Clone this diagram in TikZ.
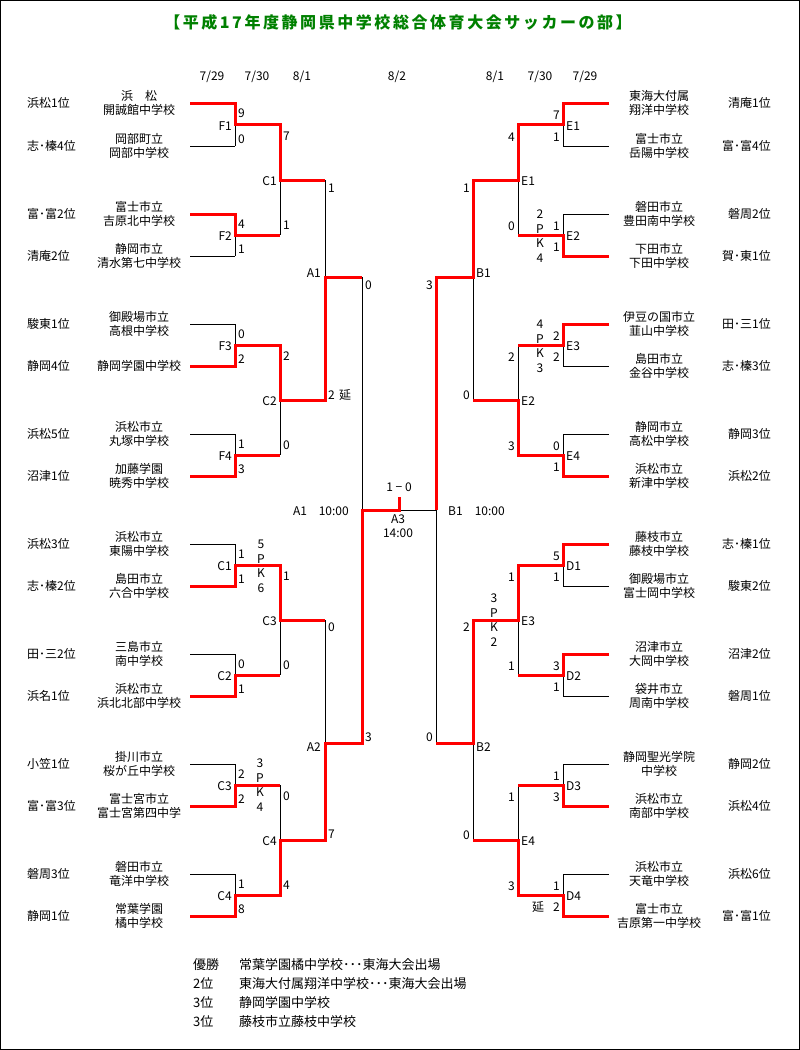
\documentclass[tikz,border=0pt]{standalone}
\usepackage{fontspec}
\setmainfont{Noto Sans CJK JP}
\newfontfamily\titlefont[LetterSpace=16]{Noto Sans CJK JP}
\definecolor{ttlgreen}{HTML}{008000}
\definecolor{wred}{HTML}{FF0000}
\tikzset{
  bl/.style={line width=1pt, draw=black},
  rd/.style={line width=3pt, draw=wred, line join=miter, line cap=butt},
  tx/.style={inner sep=0pt, font=\fontsize{12pt}{14pt}\selectfont, text height=9pt, text depth=0pt},
  bt/.style={inner sep=0pt, anchor=west, font=\fontsize{13pt}{15pt}\selectfont, text height=9.5pt, text depth=0pt},
}
% team entries
\newcommand\lteam[5]{%
  \draw[bl] (190,#2) -- (235,#2);
  \node[tx] (#1a) at (139,#2-7.5) {#3};
  \node[tx] (#1b) at (139,#2+7) {#4};
  \node[tx,anchor=west] (#1r) at (27,#2) {#5};}
\newcommand\rteam[5]{%
  \draw[bl] (563,#2) -- (609,#2);
  \node[tx] (#1a) at (659,#2-7.5) {#3};
  \node[tx] (#1b) at (659,#2+7) {#4};
  \node[tx,anchor=east] (#1r) at (771,#2) {#5};}
% matches: id top bot mid label s1 s2
\newcommand\lrone[7]{%
  \draw[bl] (235,#2) -- (235,#3) (235,#4) -- (280,#4);
  \node[tx,anchor=east] (#1l) at (232,#4+1) {#5};
  \node[tx,anchor=west] (#1u) at (238,#2+10) {#6};
  \node[tx,anchor=west] (#1d) at (238,#3-7) {#7};}
\newcommand\rrone[7]{%
  \draw[bl] (563,#2) -- (563,#3) (563,#4) -- (518,#4);
  \node[tx,anchor=west] (#1l) at (566,#4+1) {#5};
  \node[tx,anchor=east] (#1u) at (560,#2+11.5) {#6};
  \node[tx,anchor=east] (#1d) at (560,#3-9) {#7};}
\newcommand\lrtwo[7]{%
  \draw[bl] (280,#2) -- (280,#3) (280,#4) -- (325,#4);
  \node[tx,anchor=east] (#1l) at (277,#4+1) {#5};
  \node[tx,anchor=west] (#1u) at (283,#2+11) {#6};
  \node[tx,anchor=west] (#1d) at (283,#3-10) {#7};}
\newcommand\rrtwo[7]{%
  \draw[bl] (518,#2) -- (518,#3) (518,#4) -- (473,#4);
  \node[tx,anchor=west] (#1l) at (521,#4+1) {#5};
  \node[tx,anchor=east] (#1u) at (515,#2+12) {#6};
  \node[tx,anchor=east] (#1d) at (515,#3-9) {#7};}
% PK stack: id x y a b
\newcommand\pkstack[5]{%
  \node[tx] (#1a) at (#2,#3) {#4};
  \node[tx] (#1p) at (#2,#3+14.7) {P};
  \node[tx] (#1k) at (#2,#3+29.3) {K};
  \node[tx] (#1b) at (#2,#3+44) {#5};}
\begin{document}
\begin{tikzpicture}[x=1pt,y=-1pt]
\useasboundingbox (0,0) rectangle (800,1050);
\draw[line width=1pt] (0.5,0.5) rectangle (799.5,1049.5);

\node[inner sep=0pt, text=ttlgreen, font=\titlefont\bfseries\fontsize{16pt}{18pt}\selectfont] (title) at (398,22) {【平成17年度静岡県中学校総合体育大会サッカーの部】};

% dates
\node[tx] (d1) at (212,76) {7/29};
\node[tx] (d2) at (257,76) {7/30};
\node[tx] (d3) at (302,76) {8/1};
\node[tx] (d4) at (397,76) {8/2};
\node[tx] (d5) at (495,76) {8/1};
\node[tx] (d6) at (540,76) {7/30};
\node[tx] (d7) at (585,76) {7/29};

% left teams
\lteam{la}{103}{浜　松}{開誠館中学校}{浜松1位}
\lteam{lb}{146}{岡部町立}{岡部中学校}{志･榛4位}
\lteam{lc}{214}{富士市立}{吉原北中学校}{富･富2位}
\lteam{ld}{256}{静岡市立}{清水第七中学校}{清庵2位}
\lteam{le}{324}{御殿場市立}{高根中学校}{駿東1位}
\draw[bl] (190,366) -- (235,366);
\node[tx] (lfa) at (139,366) {静岡学園中学校};
\node[tx,anchor=west] (lfr) at (27,366) {静岡4位};
\lteam{lg}{434}{浜松市立}{丸塚中学校}{浜松5位}
\lteam{lh}{476}{加藤学園}{暁秀中学校}{沼津1位}
\lteam{li}{544}{浜松市立}{東陽中学校}{浜松3位}
\lteam{lj}{586}{島田市立}{六合中学校}{志･榛2位}
\lteam{lk}{654}{三島市立}{南中学校}{田･三2位}
\lteam{ll}{696}{浜松市立}{浜北北部中学校}{浜名1位}
\lteam{lm}{764}{掛川市立}{桜が丘中学校}{小笠1位}
\lteam{ln}{806}{富士宮市立}{富士宮第四中学}{富･富3位}
\lteam{lo}{874}{磐田市立}{竜洋中学校}{磐周3位}
\lteam{lp}{916}{常葉学園}{橘中学校}{静岡1位}

% right teams
\rteam{ra}{103}{東海大付属}{翔洋中学校}{清庵1位}
\rteam{rb}{146}{富士市立}{岳陽中学校}{富･富4位}
\rteam{rc}{214}{磐田市立}{豊田南中学校}{磐周2位}
\rteam{rd}{256}{下田市立}{下田中学校}{賀･東1位}
\rteam{re}{324}{伊豆の国市立}{韮山中学校}{田･三1位}
\rteam{rf}{366}{島田市立}{金谷中学校}{志･榛3位}
\rteam{rg}{434}{静岡市立}{高松中学校}{静岡3位}
\rteam{rh}{476}{浜松市立}{新津中学校}{浜松2位}
\rteam{ri}{544}{藤枝市立}{藤枝中学校}{志･榛1位}
\rteam{rj}{586}{御殿場市立}{富士岡中学校}{駿東2位}
\rteam{rk}{654}{沼津市立}{大岡中学校}{沼津2位}
\rteam{rl}{696}{袋井市立}{周南中学校}{磐周1位}
\rteam{rm}{764}{静岡聖光学院}{中学校}{静岡2位}
\rteam{rn}{806}{浜松市立}{南部中学校}{浜松4位}
\rteam{ro}{874}{浜松市立}{天竜中学校}{浜松6位}
\rteam{rp}{916}{富士市立}{吉原第一中学校}{富･富1位}

% left round 1
\lrone{mf1}{103}{146}{124.5}{F1}{9}{0}
\lrone{mf2}{214}{256}{235}{F2}{4}{1}
\lrone{mf3}{324}{366}{345}{F3}{0}{2}
\lrone{mf4}{434}{476}{455}{F4}{1}{3}
\lrone{mc1}{544}{586}{565}{C1}{1}{1}
\lrone{mc2}{654}{696}{675}{C2}{0}{1}
\lrone{mc3}{764}{806}{785}{C3}{2}{2}
\lrone{mc4}{874}{916}{895}{C4}{1}{8}
% left round 2
\lrtwo{nc1}{124.5}{235}{180}{C1}{7}{1}
\lrtwo{nc2}{345}{455}{400}{C2}{2}{0}
\lrtwo{nc3}{565}{675}{620}{C3}{1}{0}
\lrtwo{nc4}{785}{895}{840}{C4}{0}{4}
% left round 3
\draw[bl] (325,180) -- (325,400) (325,277) -- (362,277);
\node[tx,anchor=east] (na1l) at (321,273) {A1};
\node[tx,anchor=west] (na1u) at (328,188) {1};
\node[tx,anchor=west] (na1d) at (328,395) {2};
\node[tx] (na1e) at (345,395) {延};
\draw[bl] (325,620) -- (325,840) (325,743) -- (362,743);
\node[tx,anchor=east] (na2l) at (321,747) {A2};
\node[tx,anchor=west] (na2u) at (328,627) {0};
\node[tx,anchor=west] (na2d) at (328,834) {7};
% left semi
\draw[bl] (362,277) -- (362,743);
\node[tx,anchor=west] (sau) at (365,285) {0};
\node[tx,anchor=west] (sad) at (365,737) {3};
\node[tx,anchor=west] (sat) at (293,511) {A1};
\node[tx,anchor=east] (sat2) at (349,511) {10:00};

% right round 1
\rrone{me1}{103}{146}{124.5}{E1}{7}{1}
\rrone{me2}{214}{256}{235}{E2}{1}{1}
\rrone{me3}{324}{366}{345}{E3}{2}{2}
\rrone{me4}{434}{476}{455}{E4}{0}{1}
\rrone{md1}{544}{586}{565}{D1}{5}{1}
\rrone{md2}{654}{696}{675}{D2}{3}{1}
\rrone{md3}{764}{806}{785}{D3}{1}{3}
\rrone{md4}{874}{916}{895}{D4}{1}{2}
\node[tx] (md4e) at (538,907) {延};
% right round 2
\rrtwo{ne1}{124.5}{235}{180}{E1}{4}{0}
\rrtwo{ne2}{345}{455}{400}{E2}{2}{3}
\rrtwo{ne3}{565}{675}{620}{E3}{1}{1}
\rrtwo{ne4}{785}{895}{840}{E4}{1}{3}
% right round 3
\draw[bl] (473,180) -- (473,400) (473,277) -- (436,277);
\node[tx,anchor=west] (nb1l) at (476,273) {B1};
\node[tx,anchor=east] (nb1u) at (470,188) {1};
\node[tx,anchor=east] (nb1d) at (470,395) {0};
\draw[bl] (473,620) -- (473,840) (473,743) -- (436,743);
\node[tx,anchor=west] (nb2l) at (476,747) {B2};
\node[tx,anchor=east] (nb2u) at (470,627) {2};
\node[tx,anchor=east] (nb2d) at (470,835) {0};
% right semi
\draw[bl] (436,277) -- (436,743);
\node[tx,anchor=east] (sbu) at (433,285) {3};
\node[tx,anchor=east] (sbd) at (433,737) {0};
\node[tx,anchor=west] (sbt) at (448,511) {B1};
\node[tx,anchor=east] (sbt2) at (505,511) {10:00};

% final
\draw[bl] (362,510) -- (436,510);
\node[tx] (fsc) at (399,487) {1 − 0};
\node[tx] (fl) at (398,519) {A3};
\node[tx] (ft) at (398,533) {14:00};

% PK stacks
\pkstack{pk1}{261}{544}{5}{6}
\pkstack{pk2}{260}{763}{3}{4}
\pkstack{pk3}{540}{214}{2}{4}
\pkstack{pk4}{540}{324}{4}{3}
\pkstack{pk5}{494}{598}{3}{2}

% winning paths (red)
\draw[rd] (190,103) -- (235,103) -- (235,124.5) -- (280,124.5) -- (280,180) -- (325,180);
\draw[rd] (190,214) -- (235,214) -- (235,235) -- (280,235);
\draw[rd] (190,366) -- (235,366) -- (235,345) -- (280,345) -- (280,400) -- (325,400) -- (325,277) -- (362,277);
\draw[rd] (190,476) -- (235,476) -- (235,455) -- (280,455);
\draw[rd] (190,586) -- (235,586) -- (235,565) -- (280,565) -- (280,620) -- (325,620);
\draw[rd] (190,696) -- (235,696) -- (235,675) -- (280,675);
\draw[rd] (190,806) -- (235,806) -- (235,785) -- (280,785);
\draw[rd] (190,916) -- (235,916) -- (235,895) -- (280,895) -- (280,840) -- (325,840) -- (325,743) -- (362,743) -- (362,510) -- (399,510) -- (399,497);
\draw[rd] (609,103) -- (563,103) -- (563,124.5) -- (518,124.5) -- (518,180) -- (473,180) -- (473,277) -- (436,277) -- (436,510);
\draw[rd] (609,256) -- (563,256) -- (563,235) -- (518,235);
\draw[rd] (609,324) -- (563,324) -- (563,345) -- (518,345);
\draw[rd] (609,476) -- (563,476) -- (563,455) -- (518,455) -- (518,400) -- (473,400);
\draw[rd] (609,544) -- (563,544) -- (563,565) -- (518,565) -- (518,620) -- (473,620) -- (473,743) -- (436,743);
\draw[rd] (609,654) -- (563,654) -- (563,675) -- (518,675);
\draw[rd] (609,806) -- (563,806) -- (563,785) -- (518,785);
\draw[rd] (609,916) -- (563,916) -- (563,895) -- (518,895) -- (518,840) -- (473,840);

% results
\node[bt] (r1a) at (193,965) {優勝};
\node[bt] (r1b) at (239,965) {常葉学園橘中学校･･･東海大会出場};
\node[bt] (r2a) at (193,984) {2位};
\node[bt] (r2b) at (239,984) {東海大付属翔洋中学校･･･東海大会出場};
\node[bt] (r3a) at (193,1003) {3位};
\node[bt] (r3b) at (239,1003) {静岡学園中学校};
\node[bt] (r4a) at (193,1022) {3位};
\node[bt] (r4b) at (239,1022) {藤枝市立藤枝中学校};
\end{tikzpicture}
\end{document}
